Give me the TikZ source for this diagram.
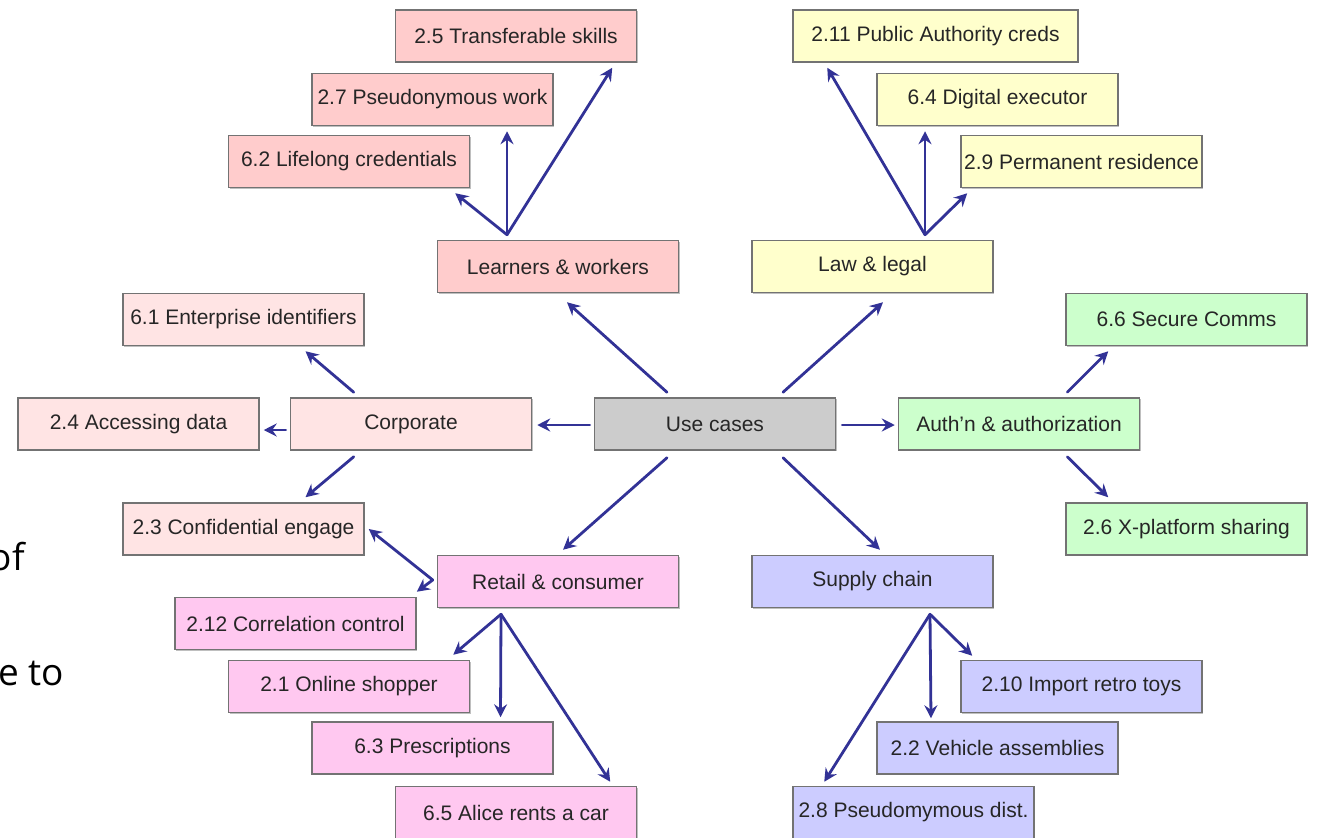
\documentclass[tikz,border=0pt]{standalone}
\usepackage{fontspec}
\setmainfont{Liberation Sans}
\newfontfamily\sidefont{Open Sans}
\usetikzlibrary{calc,arrows.meta,shadows}
\definecolor{arrowblue}{RGB}{50,50,150}
\definecolor{cpink}{RGB}{255,204,204}
\definecolor{cyellow}{RGB}{255,255,204}
\definecolor{clight}{RGB}{255,228,228}
\definecolor{cgray}{RGB}{204,204,204}
\definecolor{cgreen}{RGB}{204,255,204}
\definecolor{cmag}{RGB}{255,200,240}
\definecolor{clav}{RGB}{204,204,255}
\definecolor{cborder}{RGB}{115,115,115}
\tikzset{
  box/.style={draw=cborder, line width=1.5pt, minimum width=241pt, minimum height=52pt,
    inner sep=0pt, font=\fontsize{21}{24}\selectfont, text=black!85,
    drop shadow={shadow xshift=1.2pt, shadow yshift=-1.2pt, opacity=0.25, fill=black}},
  ar/.style={draw=arrowblue, line width=2.8pt, line cap=round,
    -{Stealth[length=13pt,width=13pt,inset=4.5pt]}},
  sidetext/.style={font=\sidefont\fontsize{37}{44}\selectfont, inner sep=0pt, anchor=base east}
}
\begin{document}
\begin{tikzpicture}[x=1pt,y=-1pt]
\useasboundingbox[fill=white] (0,0) rectangle (1320,838);
\begin{scope}
\clip (0,0) rectangle (1320,838);
% side text fragments
\node[sidetext] (sideA) at (25,570) {of};
\node[sidetext] (sideB) at (64,685) {e to};
% boxes
\node[box, fill=cpink] (t25) at (516,36) {2.5 Transferable skills};
\node[box, fill=cpink] (t27) at (432.5,99.5) {2.7 Pseudonymous work};
\node[box, fill=cpink] (t62) at (349,161.5) {6.2 Lifelong credentials};
\node[box, fill=cpink] (lw) at (558,266.5) {Learners \& workers};
\node[box, fill=cyellow, minimum width=285pt] (t211) at (935.5,36) {2.11 Public Authority creds};
\node[box, fill=cyellow] (t64) at (997.5,99.5) {6.4 Digital executor};
\node[box, fill=cyellow] (t29) at (1081.5,161.5) {2.9 Permanent residence};
\node[box, fill=cyellow] (law) at (872.5,266.5) {Law \& legal};
\node[box, fill=clight] (t61) at (243.5,319.5) {6.1 Enterprise identifiers};
\node[box, fill=clight] (t24) at (138.5,424) {2.4 Accessing data};
\node[box, fill=clight] (corp) at (411,424) {Corporate};
\node[box, fill=cgray] (uc) at (715,424) {Use cases};
\node[box, fill=cgreen] (auth) at (1019,424) {Auth’n \& authorization};
\node[box, fill=cgreen] (t66) at (1186.5,319.5) {6.6 Secure Comms};
\node[box, fill=cgreen] (t26) at (1186.5,529) {2.6 X-platform sharing};
\node[box, fill=clight] (t23) at (243.5,529) {2.3 Confidential engage};
\node[box, fill=cmag] (ret) at (558,581.5) {Retail \& consumer};
\node[box, fill=clav] (sup) at (872.5,581.5) {Supply chain};
\node[box, fill=cmag] (t212) at (295.5,623.5) {2.12 Correlation control};
\node[box, fill=cmag] (t21) at (349,686.5) {2.1 Online shopper};
\node[box, fill=cmag] (t63) at (432.5,748) {6.3 Prescriptions};
\node[box, fill=cmag] (t65) at (516,812.5) {6.5 Alice rents a car};
\node[box, fill=clav] (t210) at (1081.5,686.5) {2.10 Import retro toys};
\node[box, fill=clav] (t22) at (997.5,748) {2.2 Vehicle assemblies};
\node[box, fill=clav] (t28) at (913.5,812.5) {2.8 Pseudomymous dist.};
% hub points
\coordinate (lwh) at ($(lw.north)+(-51,-5)$);
\coordinate (lawh) at ($(law.north)+(52.5,-5)$);
\coordinate (reth) at ($(ret.west)+(-4,-1.5)$);
\coordinate (retb) at ($(ret.south)+(-57,6)$);
\coordinate (suph) at ($(sup.south)+(57.5,6)$);
% from use cases
\draw[ar] ($(uc.north)+(-48,-5)$) -- ($(lw.south)+(9,9)$);
\draw[ar] ($(uc.north)+(68,-5)$) -- ($(law.south)+(10.5,9)$);
\draw[ar] ($(uc.west)+(-4,1)$) -- ($(corp.east)+(5,1)$);
\draw[ar] ($(uc.east)+(6,1)$) -- ($(auth.west)+(-3,1)$);
\draw[ar] ($(uc.south)+(-48,7)$) -- ($(ret.north)+(5,-5)$);
\draw[ar] ($(uc.south)+(68,7)$) -- ($(sup.north)+(7.5,-5)$);
% learners
\draw[ar] (lwh) -- ($(t62.south east)+(-15,5)$);
\draw[ar] (lwh) -- ($(t27.south)+(74.5,5)$);
\draw[ar] (lwh) -- ($(t25.south east)+(-25,5)$);
% law
\draw[ar] (lawh) -- ($(t211.south west)+(35,5)$);
\draw[ar] (lawh) -- ($(t64.south)+(-72.5,5)$);
\draw[ar] (lawh) -- ($(t29.south west)+(7,5)$);
% corporate
\draw[ar] ($(corp.north west)+(64,-5)$) -- ($(t61.south)+(62,5)$);
\draw[ar] ($(corp.west)+(-4,6)$) -- ($(t24.east)+(4,6)$);
\draw[ar] ($(corp.south west)+(64,6)$) -- ($(t23.north)+(62,-5)$);
% auth
\draw[ar] ($(auth.north east)+(-73,-5)$) -- ($(t66.south west)+(43,5)$);
\draw[ar] ($(auth.south east)+(-73,6)$) -- ($(t26.north west)+(43,-5)$);
% retail
\draw[ar] (reth) -- ($(t23.east)+(4,0)$);
\draw[ar] (reth) -- ($(t212.north east)+(0,-5)$);
\draw[ar] (retb) -- ($(t21.north east)+(-17,-5)$);
\draw[ar] (retb) -- ($(t63.north)+(68,-4)$);
\draw[ar] (retb) -- ($(t65.north east)+(-27,-4)$);
% supply
\draw[ar] (suph) -- ($(t210.north west)+(12,-4)$);
\draw[ar] (suph) -- ($(t22.north)+(-66.5,-3)$);
\draw[ar] (suph) -- ($(t28.north west)+(32,-4)$);
\end{scope}
\end{tikzpicture}
\end{document}
